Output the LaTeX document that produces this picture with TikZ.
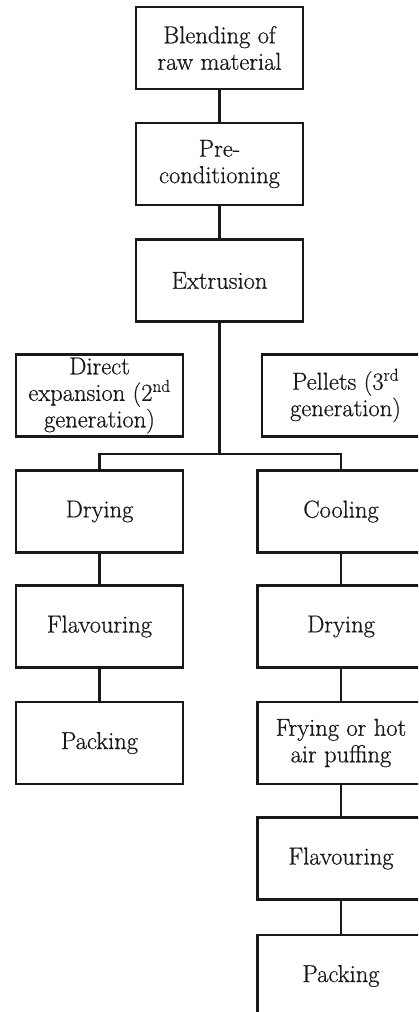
\documentclass[tikz,border=0pt]{standalone}
\usepackage{fontspec}
\setmainfont{Latin Modern Roman}[FakeBold=0.6]
\begin{document}
\begin{tikzpicture}[x=1pt,y=-1pt,
  box/.style={draw=black!90, line width=2.8pt, minimum width=167pt, minimum height=82pt,
    inner sep=1pt, align=center, font=\fontsize{24.5}{26.5}\selectfont, text=black!90},
  conn/.style={draw=black!90, line width=2.8pt}]
\useasboundingbox (0,0) rectangle (418,1012);
\clip (0,0) rectangle (418,1012);
\fill[white] (0,0) rectangle (418,1012);
% main column
\node[box] (blend) at (219.5,48) {Blending of\\raw material};
\node[box] (pre) at (219.5,164) {Pre-\\conditioning};
\node[box] (ext) at (219.5,280.5) {Extrusion};
% category labels
\node[box] (direct) at (99.5,395.5) {Direct\\expansion (2\textsuperscript{nd}\\generation)};
\node[box] (pellets) at (345.5,395.5) {Pellets (3\textsuperscript{rd}\\generation)};
% left column
\node[box] (dryL) at (99.5,511.5) {Drying};
\node[box] (flavL) at (99.5,626.5) {Flavouring};
\node[box] (packL) at (99.5,743) {Packing};
% right column
\node[box] (cool) at (341,511.5) {Cooling};
\node[box] (dryR) at (341,626.5) {Drying};
\node[box] (fry) at (341,743) {Frying or hot\\air puffing};
\node[box] (flavR) at (341,858.5) {Flavouring};
\node[box] (packR) at (341,976) {Packing};
% connectors
\coordinate (br) at (219.5,454);
\draw[conn] (blend) -- (pre);
\draw[conn] (pre) -- (ext);
\draw[conn] (ext) -- (br);
\draw[conn] (dryL.north) |- (br) -| (cool.north);
\draw[conn] (dryL) -- (flavL);
\draw[conn] (flavL) -- (packL);
\draw[conn] (cool) -- (dryR);
\draw[conn] (dryR) -- (fry);
\draw[conn] (fry) -- (flavR);
\draw[conn] (flavR) -- (packR);
\end{tikzpicture}
\end{document}
